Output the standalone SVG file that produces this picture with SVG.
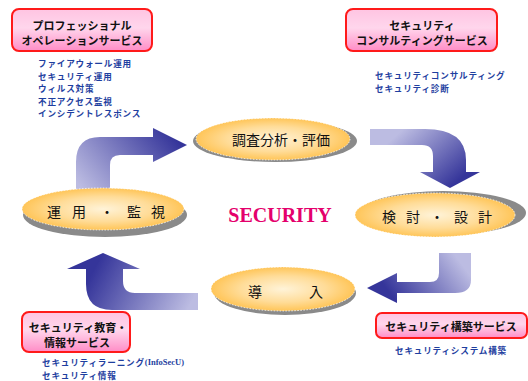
<svg xmlns="http://www.w3.org/2000/svg" width="528" height="381" viewBox="0 0 528 381">
<style>
.box{stroke:#ff1a1a;stroke-width:2;fill:url(#pink)}
.title{font-family:"Noto Sans CJK JP","Noto Sans CJK SC",sans-serif;font-weight:bold;font-size:11px;fill:#111;text-anchor:middle;dominant-baseline:central}
.list{font-family:"Noto Sans CJK JP","Noto Sans CJK SC",sans-serif;font-weight:bold;font-size:8.6px;letter-spacing:0.8px;fill:#1f3f9f;dominant-baseline:central}
.lat{font-family:"Liberation Serif",serif;font-size:8.5px;letter-spacing:0}
.shadow{fill:#8a8a8a}
.ell{fill:url(#gold);stroke:#fff;stroke-width:0.8;stroke-dasharray:1.5 1.5}
.etext{font-family:"Noto Sans CJK JP","Noto Sans CJK SC",sans-serif;font-size:14px;fill:#111;dominant-baseline:central}
</style>
<defs>
<linearGradient id="pink" x1="0" y1="0" x2="0" y2="1">
<stop offset="0" stop-color="#ffc4e2"/>
<stop offset="0.45" stop-color="#ffd6ec"/>
<stop offset="1" stop-color="#ff8cc6"/>
</linearGradient>
<radialGradient id="gold" cx="0.5" cy="0.5" r="0.5">
<stop offset="0" stop-color="#fff3d8"/>
<stop offset="0.6" stop-color="#ffdc98"/>
<stop offset="1" stop-color="#ffc558"/>
</radialGradient>
<linearGradient id="gA" gradientUnits="userSpaceOnUse" x1="90" y1="198" x2="170" y2="132">
<stop offset="0" stop-color="#bcbce2"/>
<stop offset="1" stop-color="#35359a"/>
</linearGradient>
<linearGradient id="gB" gradientUnits="userSpaceOnUse" x1="400" y1="132" x2="450" y2="188">
<stop offset="0" stop-color="#bcbce2"/>
<stop offset="1" stop-color="#35359a"/>
</linearGradient>
<linearGradient id="gC" gradientUnits="userSpaceOnUse" x1="455" y1="255" x2="395" y2="300">
<stop offset="0" stop-color="#bcbce2"/>
<stop offset="1" stop-color="#35359a"/>
</linearGradient>
<linearGradient id="gD" gradientUnits="userSpaceOnUse" x1="190" y1="305" x2="100" y2="258">
<stop offset="0" stop-color="#bcbce2"/>
<stop offset="1" stop-color="#35359a"/>
</linearGradient>
</defs>
<rect width="528" height="381" fill="#fff"/>

<g id="connectors">
<path d="M76,200 L76,162 Q76,137 100,137 L153,137 L153,128 L187,145 L153,162 L153,155 L120,155 Q110,155 110,165 L110,200 Z" fill="url(#gA)"/>
<path d="M370,129 L425,129 Q466,129 466,160 L466,172 L480,172 L450,188 L420,172 L433,172 L433,156 Q433,145 422,145 L370,145 Z" fill="url(#gB)"/>
<path d="M439,253 L471,253 L471,280 Q471,293 455,293 L397,293 L397,303 L367,288 L397,273 L397,282 L430,282 Q439,282 439,273 Z" fill="url(#gC)"/>
<path d="M67,269 L103,253 L140,269 L123,269 L123,281 Q123,293 135,293 L198,293 L198,310 L112,310 Q86,310 86,284 L86,269 Z" fill="url(#gD)"/>
</g>

<g id="n-survey">
<ellipse class="shadow" cx="275" cy="141" rx="82" ry="21"/>
<ellipse class="ell" cx="273" cy="139" rx="77" ry="21"/>
<text class="etext" x="281" y="139" text-anchor="middle">調査分析・評価</text>
</g>

<g id="n-operation">
<ellipse class="shadow" cx="105" cy="215" rx="82" ry="22"/>
<ellipse class="ell" cx="103" cy="209" rx="81" ry="21"/>
<text class="etext" x="47 72 100 127 151" y="211">運用・監視</text>
</g>

<g id="n-design">
<ellipse class="shadow" cx="443" cy="213" rx="83" ry="22"/>
<ellipse class="ell" cx="435" cy="215" rx="80" ry="22"/>
<text class="etext" x="382 406 430 454 478" y="216">検討・設計</text>
</g>

<g id="n-intro">
<ellipse class="shadow" cx="285" cy="293" rx="71" ry="22"/>
<ellipse class="ell" cx="283" cy="289" rx="72" ry="22"/>
<text class="etext" x="248 309" y="291">導入</text>
</g>

<g id="center">
<text x="280" y="215" font-family="Liberation Serif,serif" font-weight="bold" font-size="20" fill="#e4006c" text-anchor="middle" dominant-baseline="central">SECURITY</text>
</g>

<g id="s-professional">
<rect class="box" x="12" y="9" width="140" height="42" rx="7"/>
<text class="title" x="82" y="25">プロフェッショナル</text>
<text class="title" x="82" y="40">オペレーションサービス</text>
<text class="list" x="38" y="63">ファイアウォール運用</text>
<text class="list" x="38" y="75.5">セキュリティ運用</text>
<text class="list" x="38" y="88">ウィルス対策</text>
<text class="list" x="38" y="100.5">不正アクセス監視</text>
<text class="list" x="38" y="113">インシデントレスポンス</text>
</g>

<g id="s-consulting">
<rect class="box" x="346" y="9" width="151" height="42" rx="7"/>
<text class="title" x="422" y="25">セキュリティ</text>
<text class="title" x="422" y="40">コンサルティングサービス</text>
<text class="list" x="375" y="75">セキュリティコンサルティング</text>
<text class="list" x="375" y="88">セキュリティ診断</text>
</g>

<g id="s-education">
<rect class="box" x="22" y="312" width="108" height="40" rx="7"/>
<text class="title" x="78" y="327">セキュリティ教育・</text>
<text class="title" x="77" y="342">情報サービス</text>
<text class="list" x="42" y="362">セキュリティラーニング<tspan class="lat">(InfoSecU)</tspan></text>
<text class="list" x="42" y="374.5">セキュリティ情報</text>
</g>

<g id="s-build">
<rect class="box" x="376" y="313" width="151" height="25" rx="6"/>
<text class="title" x="451" y="326">セキュリティ構築サービス</text>
<text class="list" x="395" y="350">セキュリティシステム構築</text>
</g>
</svg>
